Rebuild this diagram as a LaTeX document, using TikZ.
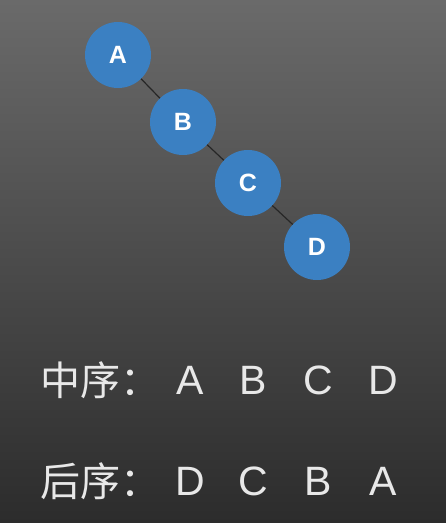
\documentclass[tikz,border=0pt]{standalone}
\usepackage{fontspec}
\setmainfont{Liberation Sans}
\newfontfamily\cjk{Noto Sans CJK SC}
\definecolor{nodeblue}{HTML}{3B80C2}
\definecolor{bgtop}{HTML}{6A6A6A}
\definecolor{bgbot}{HTML}{2C2C2C}
\definecolor{txt}{HTML}{E8E8E8}
\begin{document}
\begin{tikzpicture}[x=1pt,y=-1pt,
  tnode/.style={circle,fill=nodeblue,minimum size=66pt,inner sep=0pt,text=white,font=\fontsize{25}{28}\selectfont\bfseries},
  edge/.style={draw=black!85,line width=1.2pt},
  lbl/.style={text=txt,font=\cjk\fontsize{40}{44}\selectfont,anchor=west,inner sep=0pt},
  seq/.style={text=txt,font=\fontsize{41}{44}\selectfont,inner sep=0pt}]
\shade[top color=bgtop,bottom color=bgbot] (0,0) rectangle (446,523);
\useasboundingbox (0,0) rectangle (446,523);
\node[tnode] (A) at (118,55) {A};
\node[tnode] (B) at (183,122) {B};
\node[tnode] (C) at (248,183) {C};
\node[tnode] (D) at (317,247) {D};
\draw[edge] (A) -- (B);
\draw[edge] (B) -- (C);
\draw[edge] (C) -- (D);
\node[lbl] (l1) at (40,380) {中序：};
\node[seq] (a1) at (190,380) {A};
\node[seq] (b1) at (253,380) {B};
\node[seq] (c1) at (318,380) {C};
\node[seq] (d1) at (383,380) {D};
\node[lbl] (l2) at (40,481) {后序：};
\node[seq] (d2) at (190,481) {D};
\node[seq] (c2) at (253,481) {C};
\node[seq] (b2) at (318,481) {B};
\node[seq] (a2) at (383,481) {A};
\end{tikzpicture}
\end{document}
